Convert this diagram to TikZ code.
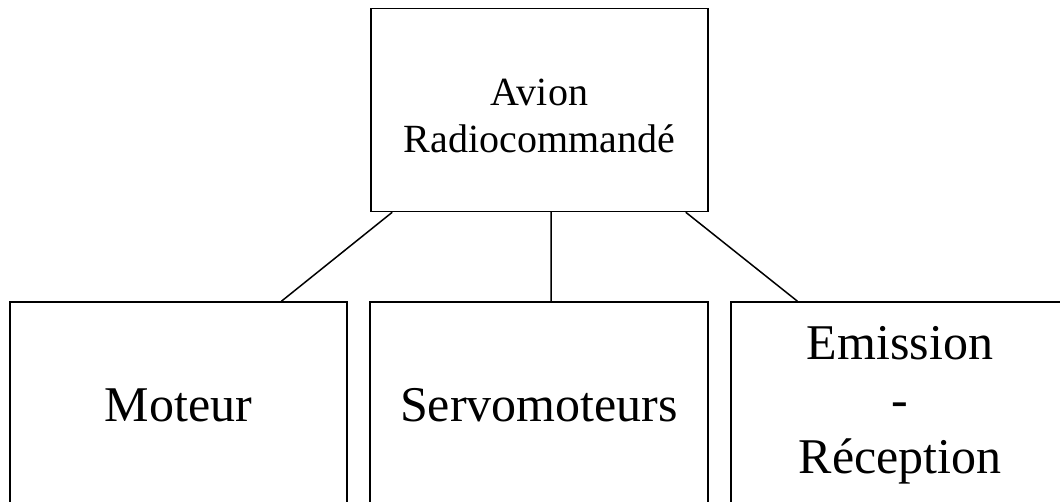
\documentclass[tikz,border=0pt]{standalone}
\usepackage{fontspec}
\setmainfont{Liberation Serif}
\usetikzlibrary{calc}
\begin{document}
\begin{tikzpicture}[x=1pt,y=-1pt,
  blockbox/.style={draw=black, line width=1.5pt, rectangle, inner sep=0pt, align=center},
  link/.style={draw=black, line width=1.5pt},
  toptext/.style={font=\fontsize{40}{47}\selectfont, align=center},
  subtext/.style={font=\fontsize{50}{57}\selectfont}]
  \useasboundingbox (0,0) rectangle (1060,502);
  \clip (0,0) rectangle (1060,502);
  % root block
  \node[blockbox, minimum width=337pt, minimum height=203pt] (root) at (539.5,110) {};
  \node[toptext] (rootlabel) at (539.5,116) {Avion\\Radiocommandé};
  % sub-blocks
  \node[blockbox, subtext, minimum width=337pt, minimum height=206pt] (motor) at (178.5,405) {Moteur};
  \node[blockbox, subtext, minimum width=338pt, minimum height=206pt] (servo) at (539,405) {Servomoteurs};
  \node[blockbox, subtext, minimum width=338pt, minimum height=206pt] (radio) at (900,405) {Emission\\-\\Réception};
  % tree connectors
  \draw[link] ($(root.south west)!0.065!(root.south east)$) -- ($(motor.north west)!0.804!(motor.north east)$);
  \draw[link] ($(root.south west)!0.534!(root.south east)$) -- ($(servo.north west)!0.536!(servo.north east)$);
  \draw[link] ($(root.south west)!0.932!(root.south east)$) -- ($(radio.north west)!0.198!(radio.north east)$);
\end{tikzpicture}
\end{document}
